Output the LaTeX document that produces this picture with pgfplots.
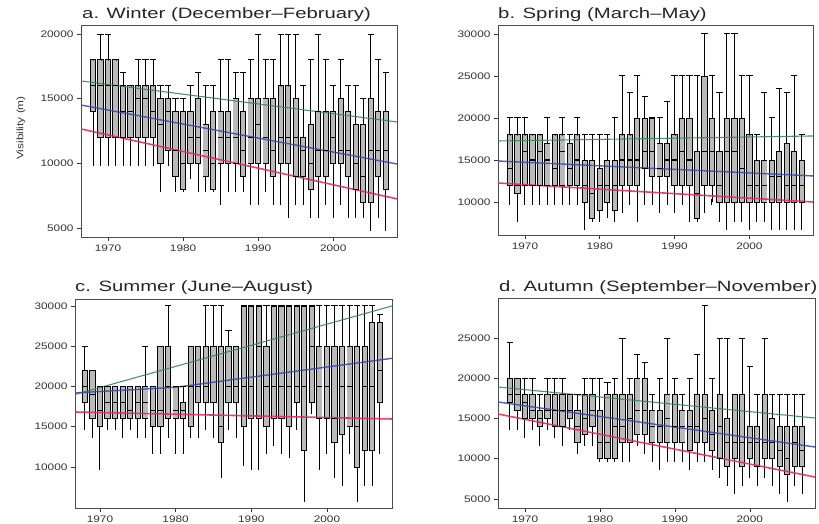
\documentclass[border=0pt]{standalone}
\usepackage{pgfplots}
\pgfplotsset{compat=1.18}
\usepackage{pgfplotstable}
\usepackage{fontspec}
\setmainfont{Liberation Sans}[FakeStretch=1.25]
\newfontfamily\titlefont{Liberation Sans}[FakeStretch=1.36]

\definecolor{tgreen}{RGB}{55,135,85}
\definecolor{tblue}{RGB}{60,75,170}
\definecolor{tred}{RGB}{225,45,100}

% columns: lower whisker, lower quartile, median, upper quartile, upper whisker (rows = 1968..2007)
\pgfplotstableread{
lw q1 med q3 uw
10000 14000 16000 18000 18000
10000 12000 16000 18000 20000
10000 12000 16000 18000 20000
10000 12000 16000 18000 18000
10000 12000 14000 16000 17000
10000 12000 14000 16000 16000
10000 12000 15000 16000 18000
10000 12000 15000 16000 18000
10000 12000 14000 16000 18000
8000 10000 13000 15000 16000
10000 11000 14000 15000 16000
8000 9000 11000 14000 15000
8000 8000 10000 14000 15000
9000 10000 12000 14000 16000
8000 10000 12000 15000 17000
8000 9000 11000 13000 16000
8000 8000 10000 14000 16000
7000 10000 12000 14000 18000
8000 10000 12000 14000 18000
8000 10000 12000 15000 17000
8000 9000 11000 14000 17000
7000 10000 12000 15000 18000
7000 10000 13000 15000 20000
8000 10000 12000 15000 18000
7000 9000 11000 15000 18000
7000 10000 12000 16000 20000
6000 10000 12000 16000 20000
7000 9000 12000 15000 20000
7000 9000 11000 12000 16000
6000 8000 10000 13000 18000
6000 9000 11000 14000 20000
7000 9000 11000 14000 18000
6000 10000 12000 14000 16000
7000 10000 11000 15000 18000
6000 9000 11000 14000 16000
6000 8000 10000 13000 16000
6000 7000 9000 13000 15000
5000 7000 11000 15000 20000
6000 9000 11000 14000 18000
5000 8000 11000 14000 17000
}\tA

\pgfplotstableread{
lw q1 med q3 uw
10000 12000 14000 18000 20000
8000 11000 12000 18000 20000
10000 12000 16000 18000 20000
10000 12000 15000 18000 18000
10000 12000 16000 18000 18000
10000 12000 15000 17000 20000
10000 12000 14000 18000 18000
10000 12000 16000 18000 20000
10000 12000 14000 17000 18000
10000 12000 15000 18000 20000
7000 10000 12000 15000 18000
8000 8000 11000 15000 18000
8000 9000 12000 14000 18000
8500 10000 12000 15000 18000
8000 9000 12000 15000 20000
9000 12000 15000 18000 25000
10000 12000 15000 18000 23000
8000 12000 15000 20000 25000
10000 14000 16000 20000 22500
10000 13000 16000 20000 20000
9000 13000 14000 17000 20000
10000 13000 15000 17000 22000
9000 12000 15000 18000 25000
10000 12000 16000 20000 25000
8000 12000 15000 20000 25000
8000 8000 11000 16000 25000
9000 12000 16000 25000 30000
10000 12000 16000 20000 25000
8000 10000 12000 16000 23000
7000 10000 16000 20000 30000
8000 10000 16000 20000 30000
8000 10000 14000 20000 25000
7000 10000 12000 18000 25000
8000 10000 12000 15000 18000
8000 10000 12000 15000 23000
7000 10000 13000 15000 20000
7000 10000 13000 16000 23500
7000 10000 12000 17000 23000
7000 10000 12000 16000 25000
7000 10000 12000 15000 18000
}\tB

\pgfplotstableread{
lw q1 med q3 uw
15000 18000 20000 22000 25000
14000 16000 19000 22000 22000
10000 15000 17000 20000 20000
15000 16000 18000 20000 20000
15000 16000 18000 20000 20000
14000 16000 18000 20000 20000
15000 16000 17000 20000 20000
14000 16000 18000 20000 20000
14000 16000 18000 20000 25000
12000 15000 17000 20000 20000
12000 15000 17000 25000 25000
14000 16000 20000 25000 30000
12000 16000 17000 20000 20000
12000 16000 17000 18000 20000
14000 15000 20000 25000 25000
14000 18000 20000 25000 25000
15000 18000 20000 25000 30000
14000 18000 25000 25000 30000
9000 13000 15000 25000 30000
15000 18000 20000 25000 27000
14000 18000 20000 25000 25000
10500 15000 20000 30000 30000
10000 16000 20000 30000 30000
10000 16000 25000 30000 30000
12000 15000 20000 25000 30000
13000 16000 20000 30000 30000
12000 16000 20000 30000 30000
11500 15000 20000 30000 30000
15000 18000 20000 30000 30000
6000 12000 20000 30000 30000
17000 18000 25000 30000 30000
10000 16000 20000 25000 30000
12000 16000 20000 25000 30000
9000 13000 16000 25000 30000
8000 14000 20000 25000 30000
12000 15000 20000 25000 30000
6000 10000 15000 25000 30000
8000 12000 20000 25000 30000
8000 12000 20000 28000 30000
12000 18000 22000 28000 29000
}\tC

\pgfplotstableread{
lw q1 med q3 uw
14000 17000 18000 20000 24500
14000 16000 18000 20000 20000
13000 15000 17000 18000 20000
14000 15000 16000 18000 20000
12000 14000 15000 16000 18000
14000 15000 16000 18000 20000
13000 14000 16000 18000 20000
12000 14000 16000 18000 20000
14000 15000 16000 18000 18000
11000 12000 14000 16000 18000
12000 13000 15000 18000 20000
12000 14000 16000 18000 20000
10000 10000 12000 16000 20000
10000 10000 12000 18000 19500
10000 10000 14000 18000 20000
10000 12000 14000 18000 25000
10000 12000 15000 18000 20000
12000 13000 16000 20000 23000
11000 13000 16000 20000 22000
10000 12000 14000 16000 18000
9000 12000 14000 16000 20000
10000 12000 15000 18000 25000
10000 12000 14000 18000 20000
10000 12000 14000 16000 18000
9000 11000 14000 16000 20000
10000 12000 14000 18000 23000
10000 12000 15000 18000 29000
9000 11000 13000 16000 20000
8000 10000 14000 18000 25000
7000 9000 12000 15000 25000
6000 10000 12000 18000 18000
7000 9000 12000 18000 25000
8000 10000 12000 14000 21500
7000 9000 12000 14000 18000
8000 10000 12000 18000 25000
7000 10000 12000 15000 18000
6000 9000 11000 14000 18000
5000 8000 10000 14000 18000
7000 9000 12000 14000 18000
6000 9000 11000 14000 18000
}\tD

% x axis: years counted from 1968 (x = year - 1968 = row index)
\newcommand{\boxes}[1]{%
  % whiskers with caps (cap at upper whisker = plot mark, cap at lower whisker = error mark)
  \addplot[only marks, mark=-, mark size=3.1bp, mark options={black, line width=1.0pt},
    error bars/.cd, y dir=minus, y explicit, error mark=-,
    error mark options={black, line width=1.0pt},
    error bar style={black, line width=1.0pt, solid}]
    table[x expr=\coordindex, y=uw, y error minus expr=\thisrow{uw}-\thisrow{lw}] {#1};
  % box: dark outline (thick black bar), then gray interior
  \addplot[only marks, mark=-, mark size=0.01pt, mark options={draw=none},
    error bars/.cd, y dir=minus, y explicit, error mark=none,
    error bar style={black, line width=6.2bp, solid}]
    table[x expr=\coordindex, y=q3, y error minus expr=\thisrow{q3}-\thisrow{q1}] {#1};
  \addplot[only marks, mark=-, mark size=0.01pt, mark options={draw=none},
    error bars/.cd, y dir=minus, y explicit, error mark=none,
    error bar style={black!27, line width=4.3bp, solid}]
    table[x expr=\coordindex, y=q3, y error minus expr=\thisrow{q3}-\thisrow{q1}] {#1};
  % box edges and medians
  \addplot[only marks, mark=-, mark size=3.1bp, mark options={black, line width=0.9pt}]
    table[x expr=\coordindex, y=q1] {#1};
  \addplot[only marks, mark=-, mark size=3.1bp, mark options={black, line width=0.9pt}]
    table[x expr=\coordindex, y=q3] {#1};
  \addplot[only marks, mark=-, mark size=2.6bp, mark options={black, line width=1.2pt}]
    table[x expr=\coordindex, y=med] {#1};
}

\pgfplotsset{
  panel/.style={scale only axis, anchor=south west,
    axis line style={black!70, line width=0.8pt},
    tick align=outside, tick pos=left, major tick length=4bp,
    tick style={black!80, line width=0.6pt},
    xtick={2,12,22,32}, xticklabels={1970,1980,1990,2000},
    scaled y ticks=false,
    /pgf/number format/set thousands separator={},
    /pgf/number format/assume math mode=true,
    tick label style={font=\fontsize{9.5}{11}\selectfont, text=black!80},
    clip=true},
  gl/.style={tgreen, line width=1.1pt, opacity=0.9},
  bl/.style={tblue, line width=1.4pt, opacity=0.9},
  rl/.style={tred, line width=1.6pt, opacity=0.9},
}

\begin{document}
\begin{tikzpicture}
\useasboundingbox (0,0) rectangle (819bp,524bp);

% a. Winter
\begin{axis}[panel, at={(81bp,287bp)}, width=316bp, height=212bp,
  xmin=-1.6, xmax=40.5, ymin=4300, ymax=20700,
  ytick={5000,10000,15000,20000}]
\boxes{\tA}
\addplot[gl] coordinates {(-1.6,16370) (40.5,13200)};
\addplot[bl] coordinates {(-1.6,14510) (40.5,9950)};
\addplot[rl] coordinates {(-1.6,12660) (40.5,7250)};
\end{axis}

% b. Spring
\begin{axis}[panel, at={(498bp,289bp)}, width=315bp, height=210bp,
  xmin=-1.6, xmax=40.5, ymin=6070, ymax=31070,
  ytick={10000,15000,20000,25000,30000}]
\boxes{\tB}
\addplot[gl] coordinates {(-1.6,17260) (40.5,17860)};
\addplot[bl] coordinates {(-1.6,14880) (40.5,13100)};
\addplot[rl] coordinates {(-1.6,12260) (40.5,10000)};
\end{axis}

% c. Summer
\begin{axis}[panel, at={(75bp,16bp)}, width=317bp, height=209bp,
  xmin=-1.3, xmax=40.6, ymin=4900, ymax=30870,
  ytick={10000,15000,20000,25000,30000}]
\boxes{\tC}
\addplot[gl] coordinates {(-1.3,19000) (40.6,30000)};
\addplot[bl] coordinates {(-1.3,19200) (12,19900) (40.6,23500)};
\addplot[rl] coordinates {(-1.3,16830) (40.6,15960)};
\end{axis}

% d. Autumn
\begin{axis}[panel, at={(498bp,16bp)}, width=317bp, height=210bp,
  xmin=-1.6, xmax=40.7, ymin=3880, ymax=29970,
  ytick={5000,10000,15000,20000,25000}]
\boxes{\tD}
\addplot[gl] coordinates {(-1.6,18910) (40.7,15060)};
\addplot[bl] coordinates {(-1.6,17050) (40.7,11460)};
\addplot[rl] coordinates {(-1.6,15560) (40.7,7730)};
\end{axis}

% titles
\node[anchor=base west, inner sep=0pt, text=black!85] at (82bp,505bp) {\titlefont\fontsize{15}{17}\selectfont a. Winter (December–February)};
\node[anchor=base west, inner sep=0pt, text=black!85] at (498bp,505bp) {\titlefont\fontsize{15}{17}\selectfont b. Spring (March–May)};
\node[anchor=base west, inner sep=0pt, text=black!85] at (75bp,232bp) {\titlefont\fontsize{15}{17}\selectfont c. Summer (June–August)};
\node[anchor=base west, inner sep=0pt, text=black!85] at (499bp,232bp) {\titlefont\fontsize{15}{17}\selectfont d. Autumn (September–November)};

% y label
\node[rotate=90, inner sep=0pt, text=black!80] at (21bp,396bp) {\fontsize{9.5}{11}\selectfont Visibility (m)};
\end{tikzpicture}
\end{document}
